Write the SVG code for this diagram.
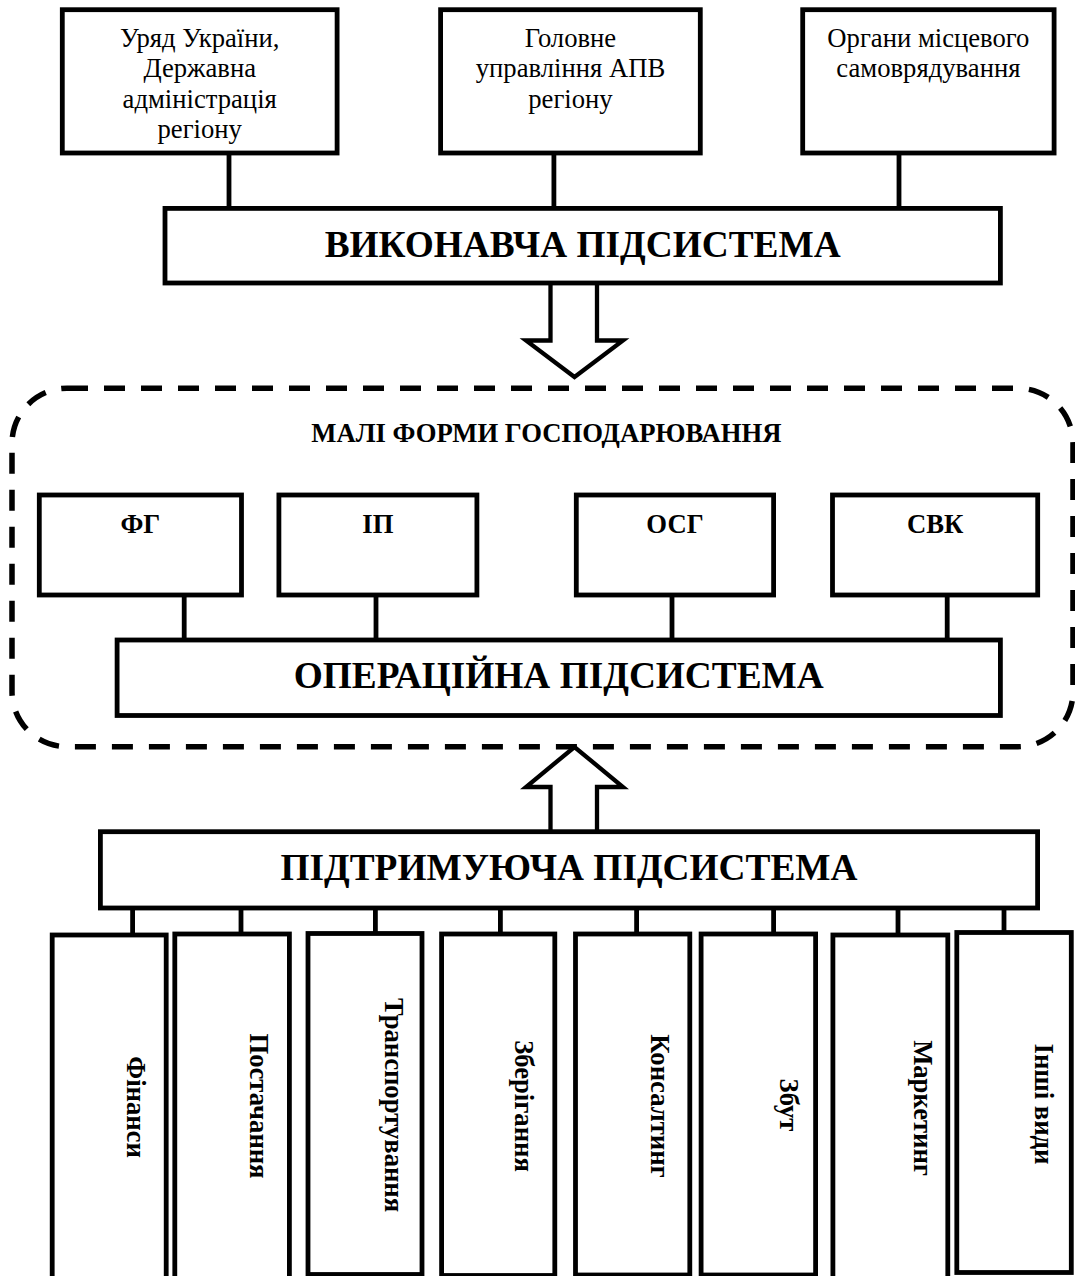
<svg xmlns="http://www.w3.org/2000/svg" width="1075" height="1276" viewBox="0 0 1075 1276">
<style>
  .box { fill: #fff; stroke: #000; stroke-width: 4.8; }
  .ln { stroke: #000; stroke-width: 4.8; fill: none; }
  .arrow { fill: #fff; stroke: #000; stroke-width: 4.3; stroke-linejoin: miter; }
  .dash { fill: none; stroke: #000; stroke-width: 5.5; stroke-dasharray: 21 16; }
  .reg { font-family: "Liberation Serif", "Times New Roman", serif; font-size: 26.67px; text-anchor: middle; fill: #000; }
  .bs { font-family: "Liberation Serif", "Times New Roman", serif; font-size: 26.67px; font-weight: bold; text-anchor: middle; fill: #000; }
  .bl { font-family: "Liberation Serif", "Times New Roman", serif; font-size: 37.33px; font-weight: bold; text-anchor: middle; fill: #000; }
</style>
<rect width="1075" height="1276" fill="#fff"/>

<g id="group-small-forms">
  <rect class="dash" x="12" y="388.3" width="1061" height="358.4" rx="55" ry="55"/>
  <text class="bs" x="546.4" y="442.3">МАЛІ ФОРМИ ГОСПОДАРЮВАННЯ</text>
</g>

<g id="connectors">
  <line class="ln" x1="229" y1="153" x2="229" y2="208.4"/>
  <line class="ln" x1="553.9" y1="153" x2="553.9" y2="208.4"/>
  <line class="ln" x1="899" y1="153" x2="899" y2="208.4"/>
  <line class="ln" x1="184.2" y1="595" x2="184.2" y2="640"/>
  <line class="ln" x1="376" y1="595" x2="376" y2="640"/>
  <line class="ln" x1="672" y1="595" x2="672" y2="640"/>
  <line class="ln" x1="947.2" y1="595" x2="947.2" y2="640"/>
  <line class="ln" x1="132.6" y1="908" x2="132.6" y2="935"/>
  <line class="ln" x1="241" y1="908" x2="241" y2="934"/>
  <line class="ln" x1="375.4" y1="908" x2="375.4" y2="933.5"/>
  <line class="ln" x1="500.4" y1="908" x2="500.4" y2="934"/>
  <line class="ln" x1="636.6" y1="908" x2="636.6" y2="934"/>
  <line class="ln" x1="773.6" y1="908" x2="773.6" y2="934"/>
  <line class="ln" x1="898" y1="908" x2="898" y2="935"/>
  <line class="ln" x1="1004" y1="908" x2="1004" y2="932.5"/>
  <path id="arrow-down" class="arrow" d="M550.5,283 L550.5,340.5 L526,340.5 L574.5,377 L623,340.5 L597,340.5 L597,283"/>
  <path id="arrow-up" class="arrow" d="M550.5,831.7 L550.5,787 L526,787 L574.5,747 L623,787 L597,787 L597,831.7"/>
</g>

<g id="node-uryad">
  <rect class="box" x="62.3" y="9.7" width="274.8" height="143.3"/>
  <text class="reg" x="199.7" y="46.7">Уряд України,</text>
  <text class="reg" x="199.7" y="77.2">Державна</text>
  <text class="reg" x="199.7" y="107.6">адміністрація</text>
  <text class="reg" x="199.7" y="137.9">регіону</text>
</g>
<g id="node-golovne">
  <rect class="box" x="440.6" y="9.7" width="259.7" height="143.3"/>
  <text class="reg" x="570.5" y="46.7">Головне</text>
  <text class="reg" x="570.5" y="77.2">управління АПВ</text>
  <text class="reg" x="570.5" y="107.6">регіону</text>
</g>
<g id="node-organy">
  <rect class="box" x="802.7" y="9.7" width="251.4" height="143.3"/>
  <text class="reg" x="928.4" y="46.7">Органи місцевого</text>
  <text class="reg" x="928.4" y="77.2">самоврядування</text>
</g>

<g id="node-vykonavcha">
  <rect class="box" x="165" y="208.4" width="835.4" height="74.6"/>
  <text class="bl" x="582.7" y="256.7">ВИКОНАВЧА ПІДСИСТЕМА</text>
</g>

<g id="node-fg">
  <rect class="box" x="39.3" y="495" width="202.2" height="100"/>
  <text class="bs" x="140.4" y="532.7">ФГ</text>
</g>
<g id="node-ip">
  <rect class="box" x="278.9" y="495" width="198" height="100"/>
  <text class="bs" x="377.9" y="532.7">ІП</text>
</g>
<g id="node-osg">
  <rect class="box" x="576.3" y="495" width="197.3" height="100"/>
  <text class="bs" x="675" y="532.7">ОСГ</text>
</g>
<g id="node-svk">
  <rect class="box" x="832.5" y="495" width="205.2" height="100"/>
  <text class="bs" x="935.1" y="532.7">СВК</text>
</g>

<g id="node-operatsiina">
  <rect class="box" x="117.1" y="640" width="883.3" height="75.5"/>
  <text class="bl" x="558.8" y="688.3">ОПЕРАЦІЙНА ПІДСИСТЕМА</text>
</g>

<g id="node-pidtrymuiucha">
  <rect class="box" x="100.4" y="831.7" width="937.2" height="76.3"/>
  <text class="bl" x="569" y="880">ПІДТРИМУЮЧА ПІДСИСТЕМА</text>
</g>

<g id="node-finansy">
  <rect class="box" x="52.2" y="935" width="114" height="355"/>
  <text class="bs" transform="translate(127,1107) rotate(90)">Фінанси</text>
</g>
<g id="node-postachannia">
  <rect class="box" x="174.8" y="934" width="114.6" height="356"/>
  <text class="bs" transform="translate(249.5,1106) rotate(90)">Постачання</text>
</g>
<g id="node-transportuvannia">
  <rect class="box" x="308" y="933.5" width="114" height="341"/>
  <text class="bs" transform="translate(384.6,1105) rotate(90)">Транспортування</text>
</g>
<g id="node-zberigannia">
  <rect class="box" x="441.6" y="934" width="113.2" height="341.5"/>
  <text class="bs" transform="translate(515.4,1106) rotate(90)">Зберігання</text>
</g>
<g id="node-konsaltyng">
  <rect class="box" x="575.5" y="934" width="114.3" height="341"/>
  <text class="bs" transform="translate(651,1106) rotate(90)">Консалтинг</text>
</g>
<g id="node-zbut">
  <rect class="box" x="701.1" y="934" width="114.5" height="341"/>
  <text class="bs" transform="translate(780,1105) rotate(90)">Збут</text>
</g>
<g id="node-marketyng">
  <rect class="box" x="832.9" y="935" width="114.9" height="355"/>
  <text class="bs" transform="translate(914.4,1108) rotate(90)">Маркетинг</text>
</g>
<g id="node-inshi">
  <rect class="box" x="956.8" y="932.5" width="114.5" height="340"/>
  <text class="bs" transform="translate(1035,1104) rotate(90)">Інші види</text>
</g>
</svg>
